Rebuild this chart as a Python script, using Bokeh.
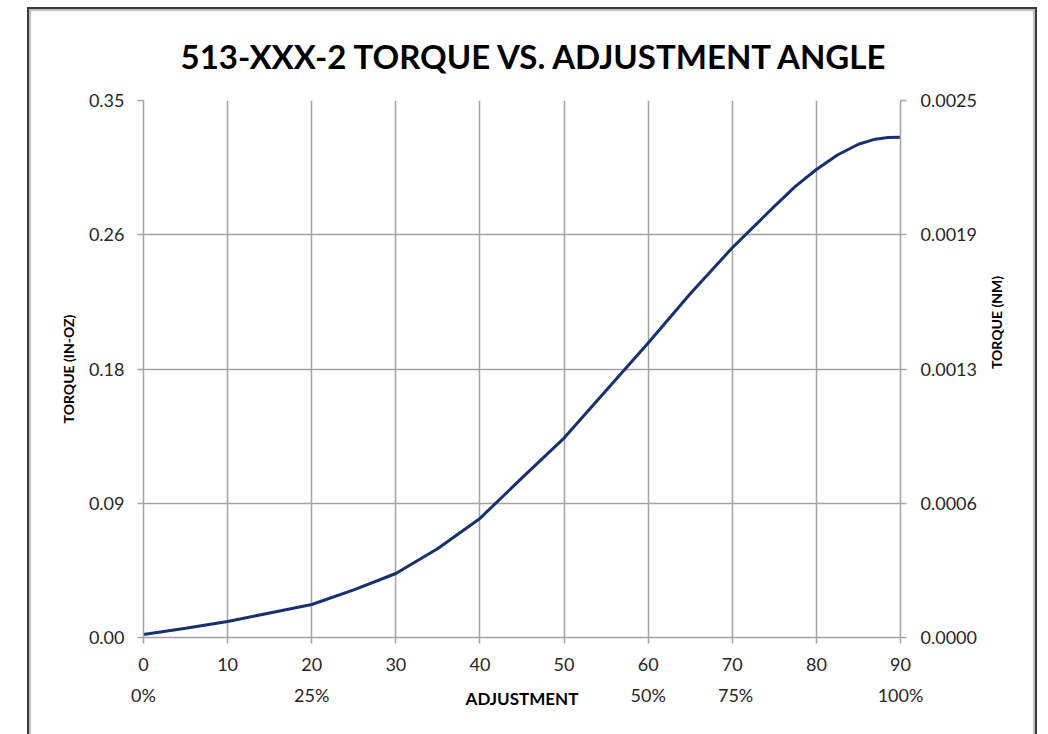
import numpy as np
from bokeh.plotting import figure
from bokeh.models import LinearAxis, Range1d, FixedTicker
from bokeh.embed import file_html
from bokeh.resources import INLINE

# ---- data ----
angle = [0, 5, 10, 15, 20, 25, 30, 35, 40, 45, 50, 55, 60, 65, 70, 75, 77.5, 80, 82.5, 85, 87, 88.5, 90]
torque_inoz = [0.002, 0.006, 0.0104, 0.016, 0.0215, 0.031, 0.0417, 0.058, 0.0776, 0.104,
               0.130, 0.161, 0.192, 0.224, 0.254, 0.281, 0.294, 0.305, 0.3145, 0.3215,
               0.3248, 0.3259, 0.326]

x_ticks = [0, 10, 20, 30, 40, 50, 60, 70, 80, 90]
left_labels = ["0.00", "0.09", "0.18", "0.26", "0.35"]
right_labels = ["0.0000", "0.0006", "0.0013", "0.0019", "0.0025"]
pct_pos = [0, 20, 60, 70.4, 90]
pct_labels = ["0%", "25%", "50%", "75%", "100%"]

Y_MAX = 0.35
Y2_MAX = 0.0025
left_ticks = list(np.linspace(0, Y_MAX, 5))
right_ticks = list(np.linspace(0, Y2_MAX, 5))

FONT = "Lato"
TXT = "#262626"
GRID = "#a3a3a3"

p = figure(width=1002, height=723, x_range=Range1d(0, 90), y_range=Range1d(0, Y_MAX),
           output_backend="svg", toolbar_location=None,
           min_border_left=112, min_border_right=133, min_border_top=89, min_border_bottom=97)
p.extra_y_ranges = {"nm": Range1d(0, Y2_MAX)}
p.outline_line_color = None
p.background_fill_color = "white"
p.border_fill_color = "white"
# chart-area frame (dark outer line, light inner line), drawn as shadows so sizing is unaffected
p.styles = {
    "margin-left": "31px",
    "margin-top": "11px",
    "box-shadow": "0 0 0 2px #bdbdbd, 0 0 0 4px #3a3a3a",
}

# title
p.title.text = "513-XXX-2 TORQUE VS. ADJUSTMENT ANGLE"
p.title.text_font = FONT
p.title.text_font_style = "bold"
p.title.text_font_size = "33px"
p.title.text_color = "#000000"
p.title.align = "left"
p.title.offset = 37
p.title.vertical_align = "top"
p.title.standoff = 46

# grids
p.xgrid.ticker = FixedTicker(ticks=x_ticks)
p.ygrid.ticker = FixedTicker(ticks=left_ticks)
for g in (p.xgrid, p.ygrid):
    g.grid_line_color = GRID
    g.grid_line_width = 1.5

def style_axis(ax):
    ax.axis_line_color = GRID
    ax.axis_line_width = 1.5
    ax.major_tick_line_color = GRID
    ax.major_tick_line_width = 1.5
    ax.major_tick_in = 0
    ax.major_tick_out = 6
    ax.minor_tick_line_color = None
    ax.major_label_text_font = FONT
    ax.major_label_text_font_size = "18px"
    ax.major_label_text_color = TXT
    ax.axis_label_text_font = FONT
    ax.axis_label_text_font_style = "bold"
    ax.axis_label_text_font_size = "14px"
    ax.axis_label_text_color = "#000000"

# bottom axis (degrees)
xa = p.xaxis[0]
style_axis(xa)
xa.ticker = FixedTicker(ticks=x_ticks)
xa.major_label_standoff = 14

# left axis
ya = p.yaxis[0]
style_axis(ya)
ya.ticker = FixedTicker(ticks=left_ticks)
ya.major_label_overrides = {t: l for t, l in zip(left_ticks, left_labels)}
ya.major_label_standoff = 13
ya.axis_label = "TORQUE (IN-OZ)"
ya.axis_label_standoff = 9

# right axis (NM)
ra = LinearAxis(y_range_name="nm", ticker=FixedTicker(ticks=right_ticks))
style_axis(ra)
ra.major_label_overrides = {t: l for t, l in zip(right_ticks, right_labels)}
ra.major_label_standoff = 14
ra.axis_label = "TORQUE (NM)"
ra.axis_label_standoff = 17
ra.axis_label_orientation = 1.5708
p.add_layout(ra, "right")

# percentage axis below
pa = LinearAxis(ticker=FixedTicker(ticks=pct_pos))
style_axis(pa)
pa.axis_line_color = None
pa.major_tick_line_color = None
pa.major_tick_out = 0
pa.major_label_overrides = {t: l for t, l in zip(pct_pos, pct_labels)}
pa.major_label_standoff = 10
pa.axis_label = "ADJUSTMENT"
pa.axis_label_text_font_size = "17px"
pa.axis_label_standoff = -21
p.add_layout(pa, "below")

# curve
p.line(angle, torque_inoz, line_color="#17306e", line_width=3)

open("out.html", "w").write(file_html(p, INLINE))
